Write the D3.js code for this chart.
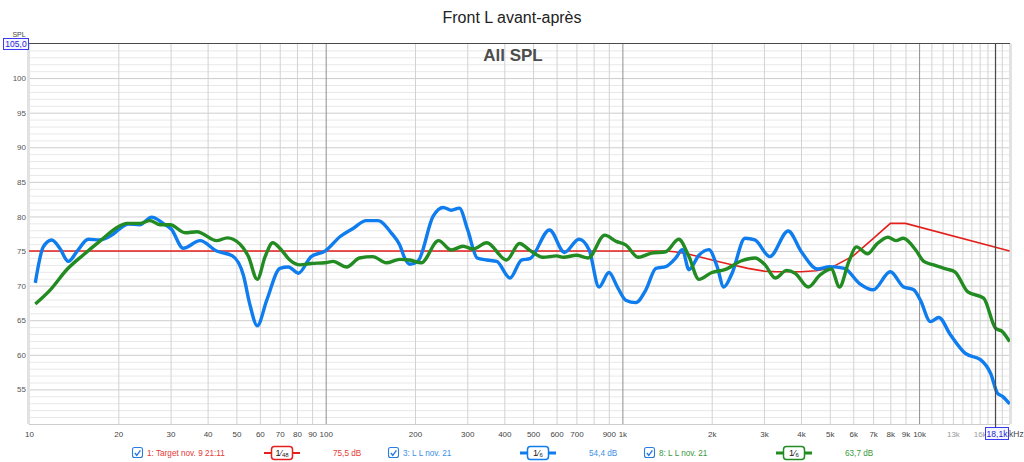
<!DOCTYPE html>
<html><head><meta charset="utf-8">
<script src="https://cdn.jsdelivr.net/npm/d3@7"></script>
<style>body{margin:0;background:#fff;} svg{display:block;font-family:"Liberation Sans",Arial,sans-serif;}</style>
</head><body><svg id="c" width="1024" height="462"></svg>
<script>
const chartTitle = "Front L avant-après";
const chartSubtitle = "All SPL";

const xTickValues = [10,20,30,40,50,60,70,80,90,100,200,300,400,500,600,700,900,1000,2000,3000,4000,5000,6000,7000,8000,9000,10000,13000,16000];
const xTickLabels = ["10","20","30","40","50","60","70","80","90","100","200","300","400","500","600","700","900","1k","2k","3k","4k","5k","6k","7k","8k","9k","10k","13k","16k"];
const xGridMinor = [20,30,40,50,60,70,80,90,200,300,400,500,600,700,800,900,2000,3000,4000,5000,6000,7000,8000,9000,11000,12000,13000,14000,15000,16000,17000,18000,19000];
const xGridMajor = [100,1000,10000];
const yTickValues = [55,60,65,70,75,80,85,90,95,100];
const yGridMinor = d3.range(51,105);

const targetFreq = [10,1400,1500,1650,1800,2050,2300,2650,3000,3300,4000,4500,5000,6000,7000,8000,9000,20200];
const targetDb   = [75,75,74.9,74.6,74.2,73.6,73.1,72.5,72.1,72.0,72.0,72.15,72.5,74.3,76.8,79,79,75];

const blueFreq = [10.5,11.17,11.93,12.7,13.57,14.6,15.84,17.3,19.0,20.0,21.6,23.6,25.9,28.3,30.2,33.1,37.7,42.9,48.5,52.8,55.5,58.8,63.3,70.1,74.9,80.9,89.3,99.5,111.9,124,137,150,166.5,177.5,185,192,205,230,249,265,282,301,324,349,377,418,457,488,568,638,714,772,834,901,962,1026,1110,1200,1297,1400,1513,1592,1676,1811,1957,2086,2196,2338,2591,2796,3140,3621,4010,4550,4996,5600,6300,7000,8000,8840,9590,10100,10920,11650,12750,14320,16100,17430,18380,19100,20200];
const blueDb   = [70.4,75.6,76.6,75.4,73.5,75.1,76.7,76.6,77.3,78.05,78.9,78.8,79.9,79.0,78.15,75.4,76.5,75.0,74.3,71.5,67.3,64.2,67.9,72.5,72.7,71.8,74.2,75.0,77.1,78.3,79.4,79.4,77.6,75.9,73.9,73.1,73.6,80.0,81.3,80.9,81.2,78.05,74.0,73.7,73.5,71.1,73.7,73.9,78.05,74.8,76.7,75.2,69.8,71.9,69.8,67.9,67.55,69.4,72.5,72.75,74.0,75.2,72.3,74.4,75.2,72.75,69.8,71.7,76.85,76.6,74.2,77.9,74.9,72.4,72.75,72.5,70.3,69.4,72.0,69.85,69.4,67.9,64.8,65.4,62.9,60.2,59.3,57.3,54.45,54.0,52.9];

const greenFreq = [10.5,11.8,13.4,15.2,17.3,20.0,21.3,23.6,25.6,27.6,29.9,33.6,36.8,42.9,46.6,51.4,54.9,58.8,62.5,66.3,70.9,75.7,81.9,89.3,99.5,106,117.6,130,144,160,177.5,192,210,240,265,290,314,349,407,450,488,540,600,633,700,767,872,953,1026,1131,1252,1400,1548,1676,1811,2003,2213,2525,2796,3026,3274,3581,3820,4230,4640,5060,5390,5800,6150,6700,7200,7850,8350,8840,9740,10370,11200,12390,13200,14600,16500,18100,19100,20200];
const greenDb   = [67.35,69.4,72.3,74.4,76.4,78.5,79.0,79.0,79.4,78.8,78.8,77.65,77.8,76.5,76.9,76.0,74.2,70.9,74.2,76.2,75.15,73.7,73.0,73.2,73.3,73.5,72.7,74.0,74.2,73.3,73.8,73.7,73.3,76.5,75.15,75.7,75.3,76.2,73.7,76.1,75.1,74.1,74.3,74.1,74.4,74.0,77.3,76.4,75.9,74.1,74.7,74.9,76.7,74.2,70.9,71.9,72.3,73.6,74.0,73.0,71.1,72.2,71.8,69.8,71.55,72.4,69.8,73.5,75.6,74.6,76.0,77.0,76.5,76.85,75.15,73.5,73.0,72.4,72.0,69.1,68.2,63.85,63.35,61.9];

const legendNames = ["1: Target nov. 9 21:11","3: L L nov. 21","8: L L nov. 21"];
const legendSmooth = ["48","6","6"];
const legendValues = ["75,5 dB","54,4 dB","63,7 dB"];
const cursorDbLabel = "105,0";
const cursorFreq = 18100;
const cursorFreqLabel = "18,1k";

const colRed = "#e3211c", colBlue = "#0f7ded", colGreen = "#228b22";
const legendTextCols = ["#e53a34","#3d8fe6","#3a9a3a"];
const lineCols = [colRed, colBlue, colGreen];

const svg = d3.select("#c");
const L = 29, R = 1010, T = 43.5, B = 424;
const x = d3.scaleLog().domain([10,20000]).range([L,1008.4]);
const y = d3.scaleLinear().domain([50,105]).range([B,T]);

svg.append("rect").attr("x",L).attr("y",T).attr("width",R-L).attr("height",B-T).attr("fill","#fff");

svg.append("g").attr("transform",`translate(${L},0)`)
  .call(d3.axisLeft(y).tickValues(yGridMinor).tickSize(-(R-L)).tickFormat(""))
  .call(g=>{g.select(".domain").remove(); g.selectAll("line").attr("stroke",d=>d%5===0?"#cdcdcd":"#e8e8e8");});
svg.append("g").attr("transform",`translate(0,${B})`)
  .call(d3.axisBottom(x).tickValues(xGridMinor).tickSize(-(B-T)).tickFormat(""))
  .call(g=>{g.select(".domain").remove(); g.selectAll("line").attr("stroke","#d2d2d2");});
svg.append("g").attr("transform",`translate(0,${B})`)
  .call(d3.axisBottom(x).tickValues(xGridMajor).tickSize(-(B-T)).tickFormat(""))
  .call(g=>{g.select(".domain").remove(); g.selectAll("line").attr("stroke","#8f8f8f");});

svg.append("rect").attr("x",L-2).attr("y",T).attr("width",3).attr("height",B-T).attr("fill","#e2e2e2");
svg.append("rect").attr("x",R-1).attr("y",T).attr("width",3).attr("height",B-T).attr("fill","#e2e2e2");
svg.append("line").attr("x1",L).attr("x2",R).attr("y1",B+0.5).attr("y2",B+0.5).attr("stroke","#cdcdcd");

svg.append("clipPath").attr("id","clip").append("rect").attr("x",L).attr("y",T-4).attr("width",R-L).attr("height",B-T+4);

const lineGen = (fr, db, curve) => d3.line().x((d,i)=>x(fr[i])).y((d,i)=>y(db[i])).curve(curve)(db);
const plot = svg.append("g").attr("clip-path","url(#clip)");
plot.append("path").attr("d",lineGen(targetFreq,targetDb,d3.curveLinear)).attr("fill","none").attr("stroke",colRed).attr("stroke-width",1.6);
plot.append("path").attr("d",lineGen(blueFreq,blueDb,d3.curveMonotoneX)).attr("fill","none").attr("stroke",colBlue).attr("stroke-width",3.4).attr("stroke-linejoin","round");
plot.append("path").attr("d",lineGen(greenFreq,greenDb,d3.curveMonotoneX)).attr("fill","none").attr("stroke",colGreen).attr("stroke-width",3.4).attr("stroke-linejoin","round");

svg.append("line").attr("x1",L-1).attr("x2",R).attr("y1",y(105)).attr("y2",y(105)).attr("stroke","#4a4a4a").attr("stroke-width",1.2);
svg.append("line").attr("x1",x(cursorFreq)).attr("x2",x(cursorFreq)).attr("y1",T).attr("y2",B+3).attr("stroke","#4a4a4a").attr("stroke-width",1.2);

svg.append("g").attr("transform",`translate(${L-2},0)`)
  .call(d3.axisLeft(y).tickValues(yTickValues).tickSize(0).tickPadding(1).tickFormat(d=>d))
  .call(g=>{g.select(".domain").remove(); g.selectAll("text").attr("fill","#555").attr("font-size","8px").attr("font-family","Liberation Sans, Arial, sans-serif");});

svg.append("g").attr("transform",`translate(0,${B})`)
  .call(d3.axisBottom(x).tickValues(xTickValues).tickSize(0).tickPadding(7).tickFormat((d,i)=>xTickLabels[i]))
  .call(g=>{g.select(".domain").remove(); g.selectAll("text").attr("fill",d=>(d===13000||d===16000)?"#9a9a9a":"#444").attr("font-size","8px").attr("font-family","Liberation Sans, Arial, sans-serif");});

svg.append("text").attr("x",19).attr("y",36.5).attr("text-anchor","middle").attr("font-size","7px").attr("fill","#444").text("SPL");
svg.append("rect").attr("x",3.5).attr("y",38.5).attr("width",25).attr("height",11).attr("fill","#f6f6ff").attr("stroke","#3a3af0");
svg.append("text").attr("x",16).attr("y",47.3).attr("text-anchor","middle").attr("font-size","8.5px").attr("fill","#2424d8").text(cursorDbLabel);
svg.append("rect").attr("x",985.5).attr("y",427.5).attr("width",23).attr("height",12).attr("fill","#f6f6ff").attr("stroke","#3a3af0");
svg.append("text").attr("x",997).attr("y",436.8).attr("text-anchor","middle").attr("font-size","8.5px").attr("fill","#2424d8").text(cursorFreqLabel);
svg.append("text").attr("x",1009).attr("y",437).attr("font-size","8.5px").attr("fill","#444").text("kHz");

svg.append("text").attr("x",512).attr("y",23).attr("text-anchor","middle").attr("font-size","16px").attr("fill","#222").text(chartTitle);
svg.append("text").attr("x",513).attr("y",61).attr("text-anchor","middle").attr("font-size","17px").attr("font-weight","bold").attr("fill","#4d4d4d").text(chartSubtitle);

const ly = 453;
legendNames.forEach((name,i)=>{
  const x0 = 132 + i*256;
  const g = svg.append("g");
  g.append("rect").attr("x",x0+0.5).attr("y",ly-5.5).attr("width",10).attr("height",10).attr("rx",2).attr("fill","#fff").attr("stroke","#2a7be0").attr("stroke-width",1.1);
  g.append("path").attr("d",`M${x0+2.8},${ly} L${x0+4.8},${ly+2.3} L${x0+8.4},${ly-2.6}`).attr("fill","none").attr("stroke","#2a7be0").attr("stroke-width",1.4);
  g.append("text").attr("x",x0+15).attr("y",ly+3).attr("font-size","8.2px").attr("fill",legendTextCols[i]).text(name);
  const sx = x0+132;
  g.append("line").attr("x1",sx).attr("x2",sx+36).attr("y1",ly).attr("y2",ly).attr("stroke",lineCols[i]).attr("stroke-width",i===0?2:3);
  g.append("rect").attr("x",sx+7.5).attr("y",ly-6.5).attr("width",21).attr("height",13).attr("rx",3).attr("fill","#fff").attr("stroke",lineCols[i]).attr("stroke-width",1.5);
  const t = g.append("text").attr("x",sx+18).attr("y",ly+3).attr("text-anchor","middle").attr("fill","#222");
  t.append("tspan").attr("font-size","9px").text("1⁄");
  t.append("tspan").attr("font-size","6px").attr("dy",1).text(legendSmooth[i]);
  g.append("text").attr("x",x0+201).attr("y",ly+3).attr("font-size","8.2px").attr("fill",legendTextCols[i]).text(legendValues[i]);
});
</script>
</body></html>
